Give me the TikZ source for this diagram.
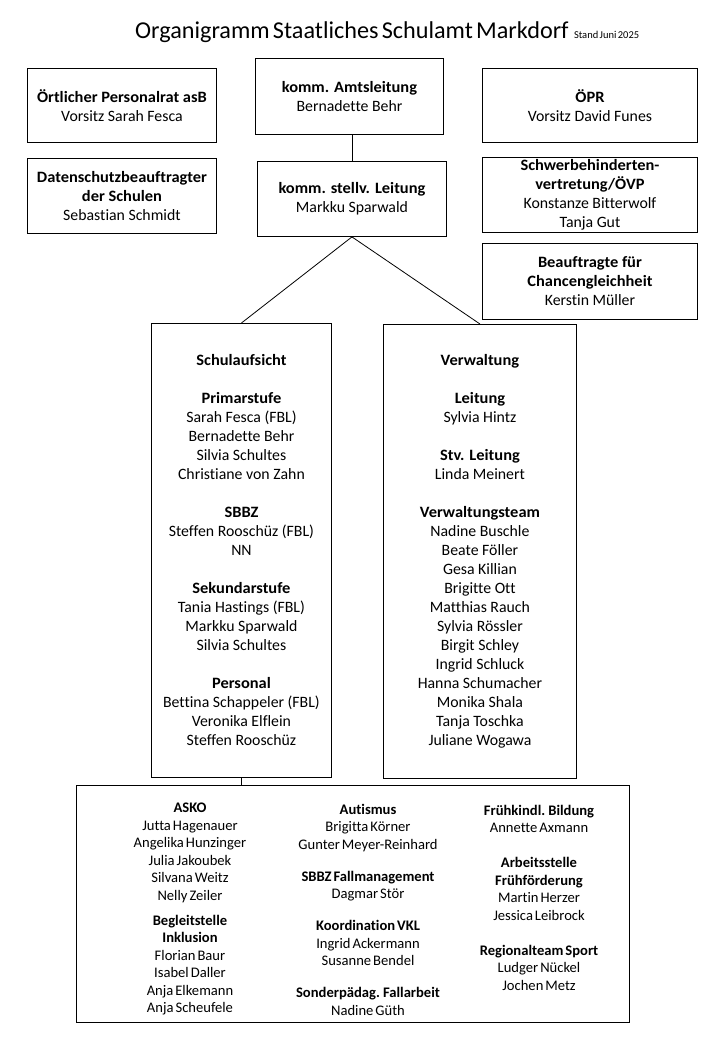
\documentclass[tikz,border=0pt]{standalone}
\usepackage{fontspec}
\setmainfont{Carlito}[Ligatures=NoCommon,BoldFeatures={FakeStretch=1.04}]
\newfontfamily\botfont{Carlito}[Ligatures=NoCommon,WordSpace=0.8]
\newfontfamily\titlefont{Carlito}[Ligatures=NoCommon,WordSpace=0.6]
\begin{document}
\begin{tikzpicture}[x=1pt,y=-1pt,
  box/.style={draw,line width=0.9pt,inner sep=0pt,anchor=north west,align=center},
  txt/.style={align=center,inner sep=0pt,font=\fontsize{15.8}{19}\selectfont},
  btxt/.style={align=center,inner sep=0pt,anchor=north,font=\botfont\fontsize{14.6}{17.5}\selectfont},
  conn/.style={line width=0.8pt}]
\useasboundingbox (0,0) rectangle (720,1040);
% title
\node[anchor=base west,inner sep=0pt,font=\titlefont\fontsize{24.2}{28}\selectfont] (title) at (135,39) {Organigramm Staatliches Schulamt Markdorf};
\node[anchor=base west,inner sep=0pt,font=\titlefont\fontsize{10.5}{12}\selectfont] (stand) at ([xshift=5pt]title.base east) {Stand Juni 2025};
% top boxes
\node[box,minimum width=189pt,minimum height=74pt] (opr1) at (27,68) {};
\node[txt] at (opr1.center) {\textbf{Örtlicher Personalrat asB}\\Vorsitz Sarah Fesca};
\node[box,minimum width=188pt,minimum height=76pt] (amt) at (255,58) {};
\node[txt] at (amt.center) {\textbf{komm. Amtsleitung}\\Bernadette Behr};
\node[box,minimum width=215pt,minimum height=74pt] (opr) at (482,68) {};
\node[txt] at (opr.center) {\textbf{ÖPR}\\Vorsitz David Funes};
\node[box,minimum width=189pt,minimum height=75pt] (ds) at (27,158) {};
\node[txt] at (ds.center) {\textbf{Datenschutzbeauftragter}\\\textbf{der Schulen}\\Sebastian Schmidt};
\node[box,minimum width=189pt,minimum height=75pt] (stv) at (257,161) {};
\node[txt] at (stv.center) {\textbf{komm. stellv. Leitung}\\Markku Sparwald};
\node[box,minimum width=215pt,minimum height=75pt] (sbv) at (482,157) {};
\node[txt] at (sbv.center) {\textbf{Schwerbehinderten-}\\\textbf{vertretung/ÖVP}\\Konstanze Bitterwolf\\Tanja Gut};
\node[box,minimum width=215pt,minimum height=76pt] (bfc) at (482,243) {};
\node[txt] at (bfc.center) {\textbf{Beauftragte für}\\\textbf{Chancengleichheit}\\Kerstin Müller};
% middle boxes
\node[box,minimum width=180pt,minimum height=454pt] (sa) at (151,323) {};
\node[txt] at (sa.center) {\textbf{Schulaufsicht}\\[19pt]
\textbf{Primarstufe}\\Sarah Fesca (FBL)\\Bernadette Behr\\Silvia Schultes\\Christiane von Zahn\\[19pt]
\textbf{SBBZ}\\Steffen Rooschüz (FBL)\\NN\\[19pt]
\textbf{Sekundarstufe}\\Tania Hastings (FBL)\\Markku Sparwald\\Silvia Schultes\\[19pt]
\textbf{Personal}\\Bettina Schappeler (FBL)\\Veronika Elflein\\Steffen Rooschüz};
\node[box,minimum width=193pt,minimum height=454pt] (vw) at (383,324) {};
\node[txt] at (vw.center) {\textbf{Verwaltung}\\[19pt]
\textbf{Leitung}\\Sylvia Hintz\\[19pt]
\textbf{Stv. Leitung}\\Linda Meinert\\[19pt]
\textbf{Verwaltungsteam}\\Nadine Buschle\\Beate Föller\\Gesa Killian\\Brigitte Ott\\Matthias Rauch\\Sylvia Rössler\\Birgit Schley\\Ingrid Schluck\\Hanna Schumacher\\Monika Shala\\Tanja Toschka\\Juliane Wogawa};
% bottom box
\node[box,minimum width=553pt,minimum height=237pt] (bot) at (76,785) {};
\node[btxt] (c1) at (190,803) {\textbf{ASKO}\\Jutta Hagenauer\\Angelika Hunzinger\\Julia Jakoubek\\Silvana Weitz\\Nelly Zeiler\\[7.5pt]
\textbf{Begleitstelle}\\\textbf{Inklusion}\\Florian Baur\\Isabel Daller\\Anja Elkemann\\Anja Scheufele};
\node[btxt] (c2) at (368,804) {\textbf{Autismus}\\Brigitta Körner\\Gunter Meyer-Reinhard\\[14.5pt]
\textbf{SBBZ Fallmanagement}\\Dagmar Stör\\[14.5pt]
\textbf{Koordination VKL}\\Ingrid Ackermann\\Susanne Bendel\\[14.5pt]
\textbf{Sonderpädag. Fallarbeit}\\Nadine Güth};
\node[btxt] (c3) at (539,805) {\textbf{Frühkindl. Bildung}\\Annette Axmann\\[17.5pt]
\textbf{Arbeitsstelle}\\\textbf{Frühförderung}\\Martin Herzer\\Jessica Leibrock\\[17.5pt]
\textbf{Regionalteam Sport}\\Ludger Nückel\\Jochen Metz};
% connectors
\draw[conn] (stv.north |- amt.south) -- (stv.north);
\draw[conn] (stv.south) -- (sa.north);
\draw[conn] (stv.south) -- (vw.north);
\draw[conn] (sa.south) -- (sa.south |- bot.north);
\end{tikzpicture}
\end{document}
